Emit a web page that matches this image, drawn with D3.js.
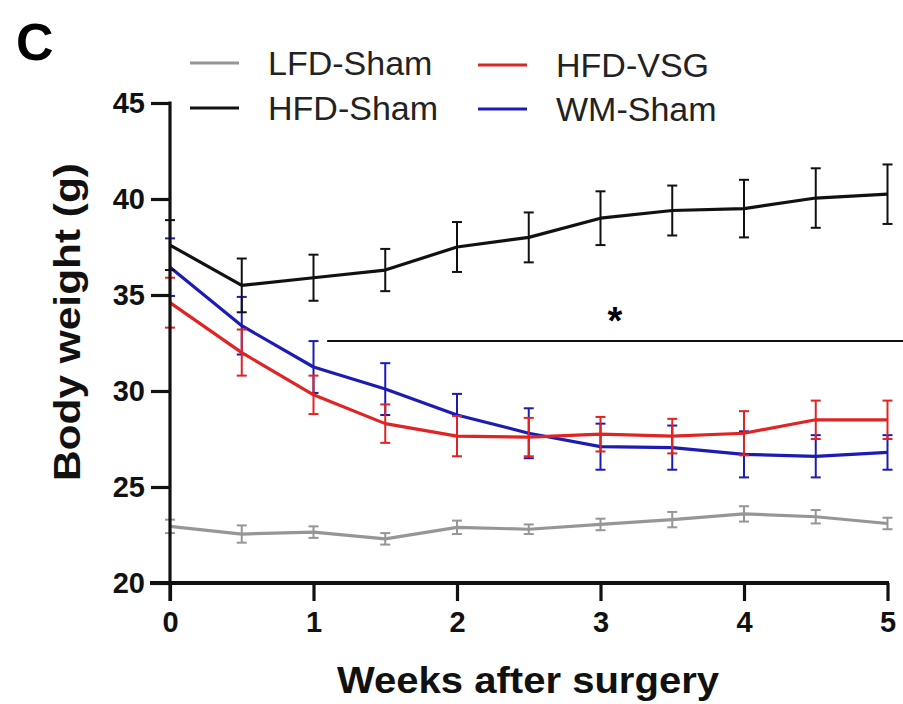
<!DOCTYPE html>
<html>
<head>
<meta charset="utf-8">
<script src="https://cdn.jsdelivr.net/npm/d3@7"></script>
<style>
  body { margin: 0; background: #fff; }
  svg { font-family: "Liberation Sans", Arial, sans-serif; }
</style>
</head>
<body>
<svg id="chart" width="903" height="704"></svg>
<script>
// weeks after surgery
var weeks = [0, 0.5, 1, 1.5, 2, 2.5, 3, 3.5, 4, 4.5, 5];
var xTicks = [0, 1, 2, 3, 4, 5];
var yTicks = [20, 25, 30, 35, 40, 45];

// mean body weight (g) and SEM per group
var lfdSham = [22.95, 22.55, 22.65, 22.3, 22.9, 22.8, 23.05, 23.3, 23.6, 23.45, 23.1];
var lfdErr = [0.35, 0.45, 0.3, 0.3, 0.35, 0.25, 0.3, 0.4, 0.4, 0.35, 0.3];
var hfdSham = [37.6, 35.5, 35.9, 36.3, 37.5, 38.0, 39.0, 39.4, 39.5, 40.05, 40.25];
var hfdErr = [1.3, 1.4, 1.2, 1.1, 1.3, 1.3, 1.4, 1.3, 1.5, 1.55, 1.55];
var hfdVsg = [34.6, 32.0, 29.8, 28.3, 27.65, 27.6, 27.75, 27.65, 27.8, 28.5, 28.5];
var vsgErr = [1.3, 1.2, 1.0, 1.0, 1.05, 1.0, 0.9, 0.9, 1.15, 1.0, 1.0];
var wmSham = [36.45, 33.4, 31.25, 30.1, 28.75, 27.8, 27.1, 27.05, 26.7, 26.6, 26.8];
var wmErr = [1.5, 1.5, 1.35, 1.35, 1.1, 1.3, 1.2, 1.15, 1.2, 1.1, 0.9];

var groups = [
  { name: "LFD-Sham", mean: lfdSham, err: lfdErr, color: "#969696" },
  { name: "WM-Sham", mean: wmSham, err: wmErr, color: "#1c1cb4" },
  { name: "HFD-VSG", mean: hfdVsg, err: vsgErr, color: "#e02424" },
  { name: "HFD-Sham", mean: hfdSham, err: hfdErr, color: "#111111" }
];

var svg = d3.select("#chart");
var x = d3.scaleLinear().domain([0, 5]).range([170, 887.5]);
var y = d3.scaleLinear().domain([20, 45]).range([583, 103]);

// panel letter
svg.append("text").attr("x", 16).attr("y", 60)
  .style("font-size", "52px").style("font-weight", "bold").text("C");

// series
var line = d3.line()
  .x(function (d) { return x(d[0]); })
  .y(function (d) { return y(d[1]); });

groups.forEach(function (g) {
  var pts = weeks.map(function (w, i) { return [w, g.mean[i], g.err[i]]; });
  var grp = svg.append("g");
  var eb = grp.selectAll("g.eb").data(pts).enter().append("g")
    .attr("stroke", g.color).attr("stroke-width", 2);
  eb.append("line")
    .attr("x1", function (d) { return x(d[0]); }).attr("x2", function (d) { return x(d[0]); })
    .attr("y1", function (d) { return y(d[1] - d[2]); }).attr("y2", function (d) { return y(d[1] + d[2]); });
  [-1, 1].forEach(function (s) {
    eb.append("line")
      .attr("x1", function (d) { return x(d[0]) - 5; }).attr("x2", function (d) { return x(d[0]) + 5; })
      .attr("y1", function (d) { return y(d[1] + s * d[2]); }).attr("y2", function (d) { return y(d[1] + s * d[2]); });
  });
  grp.append("path").datum(pts).attr("d", line)
    .attr("fill", "none").attr("stroke", g.color).attr("stroke-width", 3.2)
    .attr("stroke-linejoin", "round");
});

// significance bar
svg.append("line").attr("x1", x(1.095)).attr("x2", 903).attr("y1", 341).attr("y2", 341)
  .attr("stroke", "#111").attr("stroke-width", 2);
svg.append("text").attr("x", x(3.1)).attr("y", 334).attr("text-anchor", "middle")
  .style("font-size", "38px").style("font-weight", "bold").text("*");

// axes
var yAxis = d3.axisLeft(y).tickValues(yTicks).tickFormat(d3.format("d")).tickSize(19).tickPadding(6);
var xAxis = d3.axisBottom(x).tickValues(xTicks).tickFormat(d3.format("d")).tickSize(18).tickPadding(10);
var gy = svg.append("g").attr("transform", "translate(170,0)").call(yAxis);
var gx = svg.append("g").attr("transform", "translate(0,583)").call(xAxis);
[gy, gx].forEach(function (a) {
  a.select(".domain").remove();
  a.selectAll(".tick line").attr("stroke", "#111").attr("stroke-width", 3.2);
  a.selectAll("text").attr("fill", "#111").style("font-size", "29px").style("font-weight", "bold")
    .style("font-family", "'Liberation Sans', Arial, sans-serif");
});
gx.selectAll("text").attr("dy", "0.71em");
svg.append("line").attr("x1", 170).attr("x2", 170).attr("y1", 101.5).attr("y2", 601)
  .attr("stroke", "#111").attr("stroke-width", 3.2);
svg.append("line").attr("x1", 150).attr("x2", 889).attr("y1", 583).attr("y2", 583)
  .attr("stroke", "#111").attr("stroke-width", 4);

// axis titles
svg.append("text").attr("transform", "translate(80,322) rotate(-90)").attr("text-anchor", "middle")
  .attr("textLength", 318).attr("lengthAdjust", "spacingAndGlyphs")
  .style("font-size", "37px").style("font-weight", "bold").attr("fill", "#111").text("Body weight (g)");
svg.append("text").attr("x", 528).attr("y", 693).attr("text-anchor", "middle")
  .attr("textLength", 382).attr("lengthAdjust", "spacingAndGlyphs")
  .style("font-size", "36px").style("font-weight", "bold").attr("fill", "#111").text("Weeks after surgery");

// legend
var legend = [
  { name: "LFD-Sham", color: "#969696", x: 190, y: 63 },
  { name: "HFD-Sham", color: "#111111", x: 190, y: 108 },
  { name: "HFD-VSG", color: "#d42a2a", x: 478, y: 65 },
  { name: "WM-Sham", color: "#1c1cb4", x: 478, y: 109 }
];
var lg = svg.selectAll("g.leg").data(legend).enter().append("g")
  .attr("transform", function (d) { return "translate(" + d.x + "," + d.y + ")"; });
lg.append("line").attr("x1", 0).attr("x2", 49).attr("stroke", function (d) { return d.color; })
  .attr("stroke-width", 3.2);
lg.append("text").attr("x", 78).attr("dy", "0.36em").attr("fill", "#222")
  .style("font-size", "34px").text(function (d) { return d.name; });
</script>
</body>
</html>
